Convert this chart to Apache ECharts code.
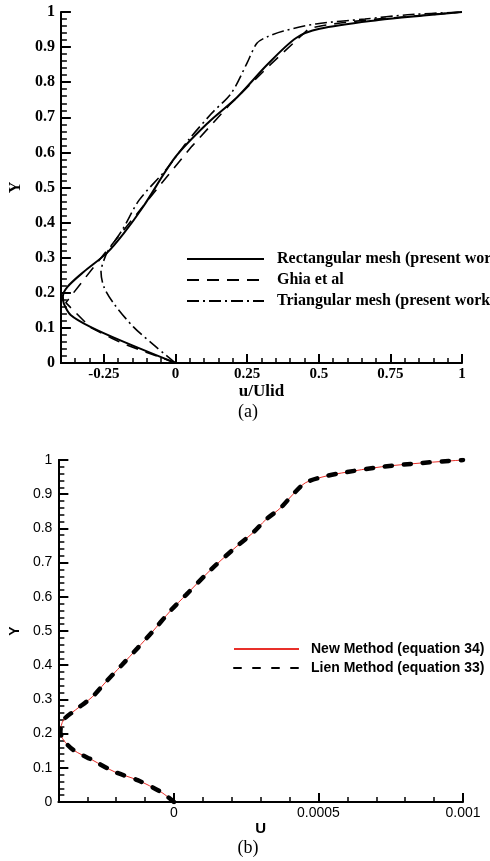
<!DOCTYPE html>
<html lang="en">
<head>
  <meta charset="UTF-8">
  <title>u-velocity profiles</title>
  <script src="https://cdn.jsdelivr.net/npm/echarts@6/dist/echarts.min.js"></script>
  <style>html, body { margin: 0; padding: 0; background: #fff; }</style>
</head>
<body>
<div id="main" style="width: 490px; height: 861px"></div>
<script>
  var chart = echarts.init(document.getElementById('main'));

  // (a) rectangular mesh, present work
  var rectU = [0, -0.18, -0.297, -0.366, -0.39, -0.393, -0.377, -0.32, -0.24, -0.18, -0.113, 0, 0.113, 0.216, 0.319, 0.421, 0.503, 0.709, 0.866, 1];
  var rectY = [0, 0.06, 0.103, 0.137, 0.17, 0.19, 0.217, 0.26, 0.313, 0.37, 0.445, 0.587, 0.684, 0.758, 0.849, 0.926, 0.952, 0.977, 0.99, 1];
  // (a) Ghia et al
  var ghiaU = [0, -0.1812, -0.2020, -0.2222, -0.2973, -0.3829, -0.2781, -0.1065, -0.0608, 0.0570, 0.1872, 0.3330, 0.4660, 0.5112, 0.5749, 0.6593, 1];
  var ghiaY = [0, 0.0547, 0.0625, 0.0703, 0.1016, 0.1719, 0.2813, 0.4531, 0.5, 0.6172, 0.7344, 0.8516, 0.9531, 0.9609, 0.9688, 0.9766, 1];
  // (a) triangular mesh, present work
  var triU = [0, -0.068, -0.147, -0.216, -0.25, -0.26, -0.25, -0.235, -0.185, -0.127, -0.034, 0.045, 0.127, 0.195, 0.25, 0.284, 0.319, 0.377, 0.49, 0.661, 0.81, 1];
  var triY = [0, 0.046, 0.103, 0.17, 0.217, 0.26, 0.293, 0.32, 0.38, 0.464, 0.55, 0.635, 0.712, 0.769, 0.855, 0.911, 0.929, 0.946, 0.966, 0.98, 0.992, 1];

  // (b) new method (eq. 34) and Lien method (eq. 33)
  var newU = [0, -0.0000444, -0.000126, -0.000205, -0.000283, -0.000348, -0.000382, -0.000393, -0.000382, -0.000341, -0.000283, -0.000239, -0.000181, -0.000126, -0.0000785, -0.00001, 0.000041, 0.000126, 0.000215, 0.000273, 0.000317, 0.000369, 0.00041, 0.000454, 0.000512, 0.00058, 0.000717, 0.000853, 0.001];
  var newY = [0, 0.029, 0.064, 0.088, 0.123, 0.152, 0.181, 0.205, 0.24, 0.269, 0.307, 0.348, 0.4, 0.45, 0.494, 0.561, 0.605, 0.678, 0.746, 0.787, 0.825, 0.86, 0.898, 0.933, 0.95, 0.962, 0.98, 0.991, 1];
  var lienU = [0, -0.0000444, -0.000126, -0.000205, -0.000283, -0.000348, -0.000382, -0.000393, -0.000382, -0.000341, -0.000283, -0.000239, -0.000181, -0.000126, -0.0000785, -0.00001, 0.000041, 0.000126, 0.000215, 0.000273, 0.000317, 0.000369, 0.00041, 0.000454, 0.000512, 0.00058, 0.000717, 0.000853, 0.001];
  var lienY = [0, 0.029, 0.064, 0.088, 0.123, 0.152, 0.181, 0.205, 0.24, 0.269, 0.307, 0.348, 0.4, 0.45, 0.494, 0.561, 0.605, 0.678, 0.746, 0.787, 0.825, 0.86, 0.898, 0.933, 0.95, 0.962, 0.98, 0.991, 1];

  // tick labels
  var topXTicks = [-0.25, 0, 0.25, 0.5, 0.75, 1];
  var botXTicks = [0, 0.0005, 0.001];

  function zip(xs, ys) {
    var out = [];
    for (var i = 0; i < xs.length; i++) out.push([xs[i], ys[i]]);
    return out;
  }

  var SERIF = 'Liberation Serif';
  var SANS = 'Liberation Sans';

  function mainX(grid, min, max, ticks, name, font, bold, nameSize) {
    return {
      type: 'value', gridIndex: grid, min: min, max: max, position: 'bottom',
      name: name, nameLocation: 'middle', nameGap: 17,
      nameTextStyle: {color: '#000', fontFamily: font, fontWeight: 'bold', fontSize: nameSize},
      axisLine: {show: true, onZero: false, lineStyle: {color: '#000', width: 2}},
      axisTick: {show: true, inside: true, length: 9, lineStyle: {color: '#000', width: 2}, customValues: ticks},
      axisLabel: {color: '#000', fontFamily: font, fontWeight: bold ? 'bold' : 'normal', fontSize: bold ? 15 : 14, margin: 4, customValues: ticks},
      splitLine: {show: false}
    };
  }

  // extra axis only for the short ticks
  function minorX(grid, min, max, step) {
    return {
      type: 'value', gridIndex: grid, min: min, max: max, interval: step, position: 'bottom',
      axisLine: {show: true, onZero: false, lineStyle: {color: '#000', opacity: 0}},
      axisTick: {show: true, inside: true, length: 5, lineStyle: {color: '#000', width: 1.5}},
      axisLabel: {show: false},
      splitLine: {show: false}
    };
  }

  function yAx(grid, font, bold) {
    return {
      type: 'value', gridIndex: grid, min: 0, max: 1, interval: 0.1, position: 'left',
      name: 'Y', nameLocation: 'middle', nameGap: 32,
      nameTextStyle: {color: '#000', fontFamily: font, fontWeight: 'bold', fontSize: bold ? 16 : 14},
      axisLine: {show: true, onZero: false, lineStyle: {color: '#000', width: 2}},
      axisTick: {show: true, inside: true, length: 10, lineStyle: {color: '#000', width: 2}},
      axisLabel: {color: '#000', fontFamily: font, fontWeight: bold ? 'bold' : 'normal', fontSize: bold ? 16 : 14, margin: 6},
      splitLine: {show: false}
    };
  }

  function minorY(grid) {
    return {
      type: 'value', gridIndex: grid, min: 0, max: 1, interval: 0.02, position: 'left',
      axisLine: {show: true, onZero: false, lineStyle: {color: '#000', opacity: 0}},
      axisTick: {show: true, inside: true, length: 6, lineStyle: {color: '#000', width: 1.5}},
      axisLabel: {show: false},
      splitLine: {show: false}
    };
  }

  var option = {
    animation: false,
    backgroundColor: '#fff',
    grid: [
      {left: 55, top: 12, width: 407, height: 351},
      {left: 55, top: 460, width: 408, height: 342}
    ],
    xAxis: [
      mainX(0, -0.4, 1, topXTicks, 'u/Ulid', SERIF, true, 17),
      minorX(0, -0.4, 1, 0.05),
      mainX(1, -0.0004, 0.001, botXTicks, 'U', SANS, false, 15),
      minorX(1, -0.0004, 0.001, 0.0001)
    ],
    yAxis: [yAx(0, SERIF, true), minorY(0), yAx(1, SANS, false), minorY(1)],
    legend: [
      {
        orient: 'vertical', left: 181, top: 246, itemWidth: 77, itemHeight: 14, itemGap: 5,
        selectedMode: false, itemStyle: {opacity: 0},
        textStyle: {color: '#000', fontFamily: SERIF, fontWeight: 'bold', fontSize: 16, lineHeight: 14, padding: [0, 0, 0, 8]},
        data: ['Rectangular mesh (present work)', 'Ghia et al', 'Triangular mesh (present work)']
      },
      {
        orient: 'vertical', left: 228, top: 637, itemWidth: 65, itemHeight: 12, itemGap: 5,
        selectedMode: false, itemStyle: {opacity: 0},
        textStyle: {color: '#000', fontFamily: SANS, fontWeight: 'bold', fontSize: 14, lineHeight: 12, padding: [0, 0, 0, 7]},
        data: ['New Method (equation 34)', 'Lien Method (equation 33)']
      }
    ],
    graphic: [
      {type: 'text', x: 248, y: 412, style: {text: '(a)', align: 'center', verticalAlign: 'middle', font: '18px "Liberation Serif"', fill: '#000'}},
      {type: 'text', x: 248, y: 848, style: {text: '(b)', align: 'center', verticalAlign: 'middle', font: '18px "Liberation Serif"', fill: '#000'}}
    ],
    series: [
      {
        name: 'Rectangular mesh (present work)', type: 'line', xAxisIndex: 0, yAxisIndex: 0,
        data: zip(rectU, rectY), symbol: 'none', smooth: 0.3, color: '#000',
        lineStyle: {color: '#000', width: 2}
      },
      {
        name: 'Ghia et al', type: 'line', xAxisIndex: 0, yAxisIndex: 0,
        data: zip(ghiaU, ghiaY), symbol: 'none', color: '#000',
        lineStyle: {color: '#000', width: 1.6, type: [12, 8]}
      },
      {
        name: 'Triangular mesh (present work)', type: 'line', xAxisIndex: 0, yAxisIndex: 0,
        data: zip(triU, triY), symbol: 'none', smooth: 0.3, color: '#000',
        lineStyle: {color: '#000', width: 1.6, type: [12, 4, 2, 4]}
      },
      {
        name: 'New Method (equation 34)', type: 'line', xAxisIndex: 2, yAxisIndex: 2,
        data: zip(newU, newY), symbol: 'none', smooth: 0.3, color: '#e8302a',
        lineStyle: {color: '#e8302a', width: 1}
      },
      {
        name: 'Lien Method (equation 33)', type: 'line', xAxisIndex: 2, yAxisIndex: 2,
        data: zip(lienU, lienY), symbol: 'none', smooth: 0.3, color: '#000',
        lineStyle: {color: '#000', width: 4.5, type: [7, 12], cap: 'round'}
      }
    ]
  };

  chart.setOption(option);
</script>
</body>
</html>
